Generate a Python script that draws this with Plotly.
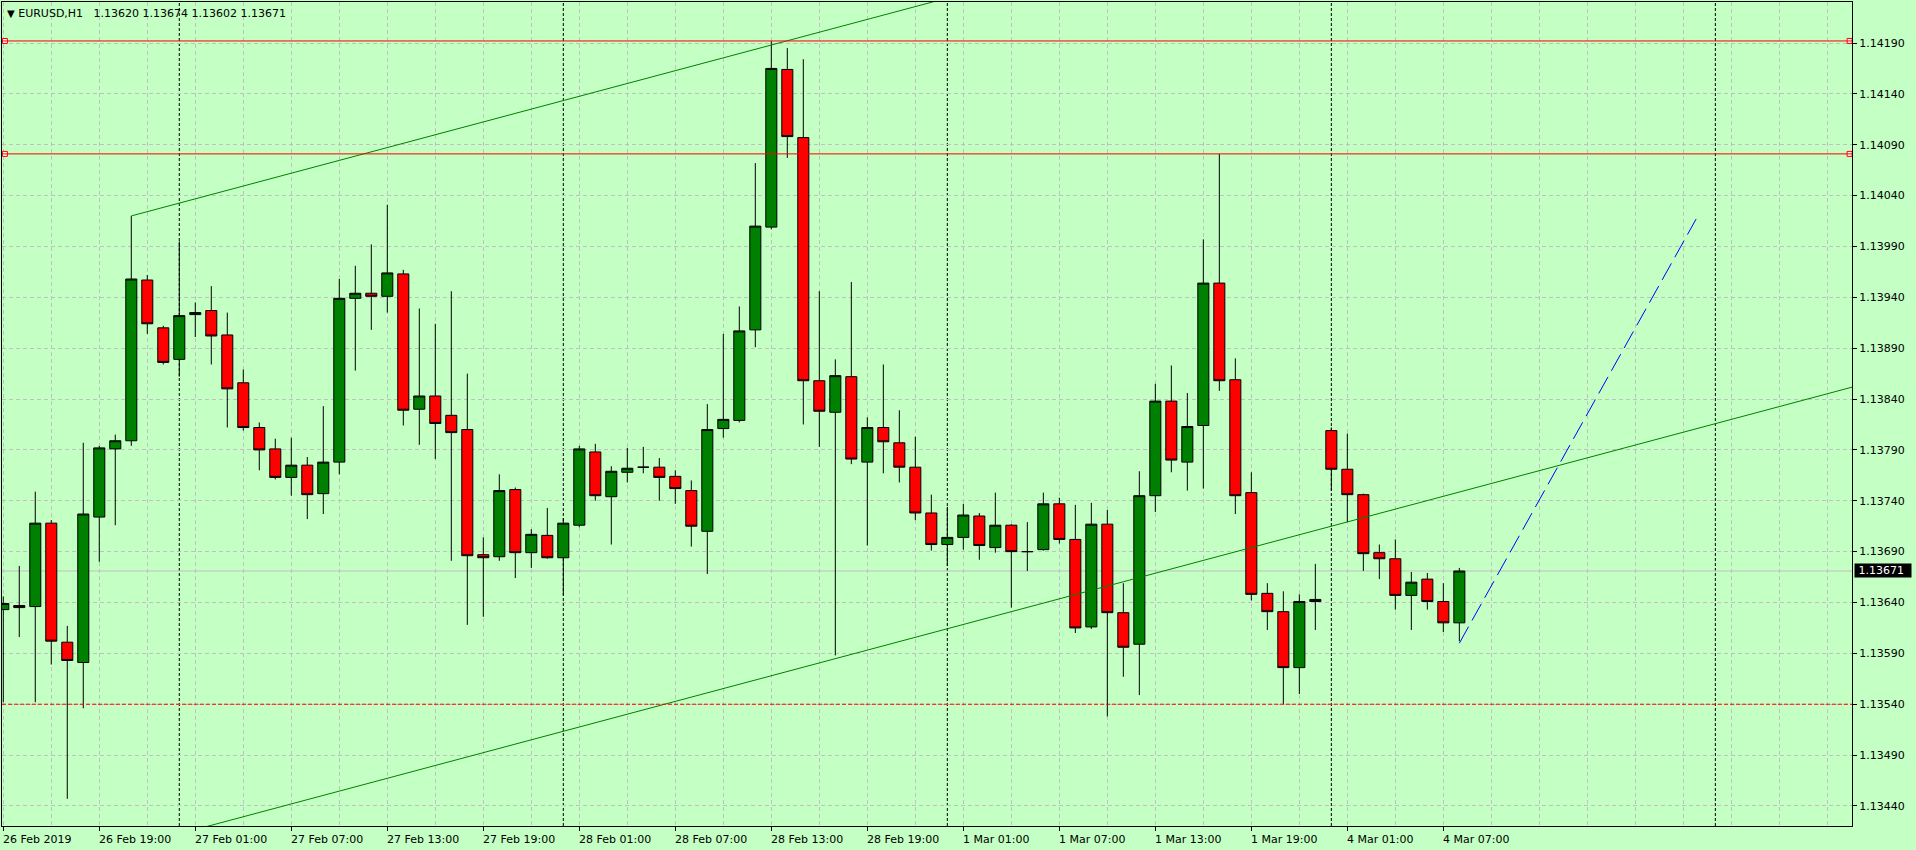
import plotly.graph_objects as go
import pandas as pd

# ---------------- data ----------------
symbol = "EURUSD,H1"

opens = [1.13633, 1.13637, 1.13636, 1.13718, 1.13601, 1.13581, 1.13724, 1.13791, 1.13799, 1.13957,
         1.13910, 1.13879, 1.13923, 1.13927, 1.13903, 1.13856, 1.13812, 1.13791, 1.13763, 1.13775,
         1.13747, 1.13778, 1.13939, 1.13944, 1.13941, 1.13963, 1.13830, 1.13843, 1.13824, 1.13810,
         1.13687, 1.13685, 1.13751, 1.13689, 1.13706, 1.13684, 1.13716, 1.13788, 1.13744, 1.13768,
         1.13773, 1.13773, 1.13764, 1.13750, 1.13710, 1.13811, 1.13819, 1.13908, 1.14009, 1.14164,
         1.14097, 1.13858, 1.13827, 1.13862, 1.13778, 1.13812, 1.13797, 1.13773, 1.13728, 1.13697,
         1.13704, 1.13725, 1.13694, 1.13716, 1.13690, 1.13692, 1.13737, 1.13702, 1.13616, 1.13717,
         1.13630, 1.13599, 1.13745, 1.13838, 1.13778, 1.13814, 1.13954, 1.13859, 1.13748, 1.13649,
         1.13631, 1.13576, 1.13641, 1.13809, 1.13771, 1.13746, 1.13689, 1.13683, 1.13647, 1.13663,
         1.13641, 1.13620]
highs = [1.13646, 1.13676, 1.13749, 1.13721, 1.13617, 1.13797, 1.13794, 1.13805, 1.14020, 1.13962,
         1.13912, 1.13995, 1.13935, 1.13951, 1.13925, 1.13869, 1.13817, 1.13801, 1.13802, 1.13783,
         1.13833, 1.13958, 1.13971, 1.13992, 1.14031, 1.13967, 1.13929, 1.13914, 1.13946, 1.13865,
         1.13704, 1.13766, 1.13753, 1.13712, 1.13733, 1.13723, 1.13794, 1.13796, 1.13774, 1.13792,
         1.13793, 1.13782, 1.13770, 1.13760, 1.13835, 1.13904, 1.13931, 1.14072, 1.14192, 1.14185,
         1.14174, 1.13946, 1.13879, 1.13955, 1.13822, 1.13874, 1.13829, 1.13803, 1.13746, 1.13734,
         1.13737, 1.13728, 1.13748, 1.13717, 1.13719, 1.13748, 1.13743, 1.13736, 1.13738, 1.13731,
         1.13659, 1.13769, 1.13855, 1.13873, 1.13846, 1.13997, 1.14081, 1.13880, 1.13768, 1.13659,
         1.13651, 1.13648, 1.13678, 1.13812, 1.13806, 1.13747, 1.13697, 1.13702, 1.13670, 1.13669,
         1.13659, 1.13674]
lows = [1.13542, 1.13606, 1.13542, 1.13579, 1.13447, 1.13536, 1.13680, 1.13716, 1.13794, 1.13904,
        1.13874, 1.13862, 1.13901, 1.13874, 1.13812, 1.13809, 1.13770, 1.13761, 1.13745, 1.13722,
        1.13727, 1.13766, 1.13868, 1.13908, 1.13925, 1.13814, 1.13795, 1.13781, 1.13681, 1.13618,
        1.13626, 1.13681, 1.13664, 1.13674, 1.13683, 1.13647, 1.13714, 1.13740, 1.13697, 1.13758,
        1.13767, 1.13740, 1.13737, 1.13695, 1.13668, 1.13802, 1.13817, 1.13891, 1.14007, 1.14077,
        1.13815, 1.13793, 1.13588, 1.13776, 1.13696, 1.13767, 1.13758, 1.13721, 1.13691, 1.13676,
        1.13692, 1.13682, 1.13689, 1.13635, 1.13671, 1.13691, 1.13698, 1.13610, 1.13614, 1.13528,
        1.13567, 1.13549, 1.13729, 1.13768, 1.13750, 1.13752, 1.13848, 1.13727, 1.13642, 1.13613,
        1.13540, 1.13550, 1.13613, 1.13750, 1.13719, 1.13671, 1.13663, 1.13633, 1.13613, 1.13633,
        1.13611, 1.13602]
closes = [1.13639, 1.13635, 1.13718, 1.13602, 1.13583, 1.13727, 1.13792, 1.13799, 1.13958, 1.13914,
          1.13876, 1.13922, 1.13925, 1.13902, 1.13850, 1.13812, 1.13790, 1.13763, 1.13775, 1.13746,
          1.13778, 1.13939, 1.13944, 1.13941, 1.13964, 1.13829, 1.13843, 1.13816, 1.13807, 1.13686,
          1.13684, 1.13750, 1.13689, 1.13707, 1.13684, 1.13718, 1.13791, 1.13745, 1.13769, 1.13772,
          1.13773, 1.13763, 1.13752, 1.13715, 1.13810, 1.13820, 1.13907, 1.14010, 1.14165, 1.14098,
          1.13858, 1.13828, 1.13863, 1.13781, 1.13812, 1.13798, 1.13773, 1.13728, 1.13697, 1.13704,
          1.13726, 1.13696, 1.13716, 1.13690, 1.13690, 1.13737, 1.13702, 1.13615, 1.13717, 1.13630,
          1.13596, 1.13745, 1.13838, 1.13780, 1.13813, 1.13954, 1.13858, 1.13745, 1.13648, 1.13631,
          1.13576, 1.13641, 1.13643, 1.13771, 1.13746, 1.13688, 1.13683, 1.13647, 1.13660, 1.13641,
          1.13620, 1.13671]

# bar times (H1, weekend gap skipped)
times = (list(pd.date_range("2019-02-26 13:00", "2019-03-01 23:00", freq="h")) +
         list(pd.date_range("2019-03-04 00:00", "2019-03-04 08:00", freq="h")))

price_ticks = [round(1.13440 + 0.0005 * i, 5) for i in range(16)]
resistance_levels = [1.14192, 1.14081]
support_level = 1.13540
channel_anchor_bar = 8
channel_anchor_price = 1.14020
channel_slope = 4.2e-5      # price per bar
channel_width = 0.0062
projection_x = [91, 105.8]
projection_y = [1.13600, 1.14017]

label_every = 6
grid_every = 3
x_range = [-0.08, 115.54]
y_range = [1.134203, 1.142303]

# ---------------- styling ----------------
BG = "rgb(196,255,196)"
GRID = "#C0C0C0"
FONT = "DejaVu Sans"

idx = list(range(len(times)))
last_close = closes[-1]

fig = go.Figure()

fig.add_trace(go.Candlestick(
    x=idx, open=opens, high=highs, low=lows, close=closes,
    increasing=dict(line=dict(color="black", width=1), fillcolor="#008000"),
    decreasing=dict(line=dict(color="black", width=1), fillcolor="#FF0000"),
    whiskerwidth=0, hoverinfo="skip", showlegend=False,
))

# channel lines
xe = x_range[1] + 1
up_x = [channel_anchor_bar, xe]
up_y = [channel_anchor_price + channel_slope * (x - channel_anchor_bar) for x in up_x]
lo_x = [x_range[0] - 1, xe]
lo_y = [channel_anchor_price - channel_width + channel_slope * (x - channel_anchor_bar) for x in lo_x]
for xs, ys in [(up_x, up_y), (lo_x, lo_y)]:
    fig.add_trace(go.Scatter(x=xs, y=ys, mode="lines", line=dict(color="#008000", width=1),
                             hoverinfo="skip", showlegend=False))

# projection (blue dashed)
fig.add_trace(go.Scatter(x=projection_x, y=projection_y, mode="lines",
                         line=dict(color="#0000FF", width=1, dash="19px,7px"),
                         hoverinfo="skip", showlegend=False))

shapes = []
# day separators
seps = [k for k, t in enumerate(times) if t.hour == 0]
seps.append(seps[-1] + 24)
for s in seps:
    shapes.append(dict(type="line", xref="x", yref="paper", x0=s, x1=s, y0=0, y1=1,
                       line=dict(color="black", width=1, dash="3px,2px"), layer="between"))
# bid line
shapes.append(dict(type="line", xref="paper", yref="y", x0=0, x1=1, y0=last_close, y1=last_close,
                   line=dict(color=GRID, width=1), layer="between"))
# resistance lines
for lv in resistance_levels:
    shapes.append(dict(type="line", xref="paper", yref="y", x0=0, x1=1, y0=lv, y1=lv,
                       line=dict(color="#FF0000", width=1), layer="above"))
# support dashed
shapes.append(dict(type="line", xref="paper", yref="y", x0=0, x1=1, y0=support_level, y1=support_level,
                   line=dict(color="#FF0000", width=1, dash="4px,2px"), layer="above"))

# selection squares on the resistance lines
sq_x, sq_y = [], []
for lv in resistance_levels:
    sq_x += [x_range[0] + 0.18, x_range[1] - 0.15]
    sq_y += [lv, lv]
fig.add_trace(go.Scatter(x=sq_x, y=sq_y, mode="markers", cliponaxis=False,
                         marker=dict(symbol="square", size=5, color="white",
                                     line=dict(color="#FF0000", width=1)),
                         hoverinfo="skip", showlegend=False))

annotations = []
# x labels
label_idx = [k for k in idx if k % label_every == 0]
for k in label_idx:
    t = times[k]
    txt = f"{t.day} {t.strftime('%b')} {t.year}" if k == 0 else f"{t.day} {t.strftime('%b')} {t.strftime('%H:%M')}"
    annotations.append(dict(x=k, xref="x", y=0, yref="paper", yanchor="top", xanchor="left",
                            yshift=-5, xshift=-2, text=txt, showarrow=False,
                            font=dict(family=FONT, size=11, color="black")))
# title
o, h, l, c = opens[-1], highs[-1], lows[-1], closes[-1]
title_txt = ("<span style='font-size:10px'>▼</span>\u00a0" + symbol + "\u00a0\u00a0\u00a0" +
             f"{o:.5f} {h:.5f} {l:.5f} {c:.5f}")
annotations.append(dict(x=0, xref="paper", y=1, yref="paper", xanchor="left", yanchor="top",
                        xshift=3, yshift=-3, text=title_txt, showarrow=False,
                        font=dict(family=FONT, size=11, color="black")))
# current price label
annotations.append(dict(x=1, xref="paper", y=last_close, yref="y", xanchor="left", yanchor="middle",
                        xshift=2, text=f"\u00a0{last_close:.5f}\u00a0\u00a0", showarrow=False,
                        bgcolor="black", borderpad=0,
                        font=dict(family=FONT, size=11, color="white")))

minor_vals = [k for k in range(0, int(x_range[1]) + 1) if k % grid_every == 0 and k not in label_idx]

fig.update_layout(
    width=1916, height=850,
    margin=dict(l=2, r=64, t=2, b=24, autoexpand=False),
    paper_bgcolor=BG, plot_bgcolor=BG,
    boxgap=0.31, boxgroupgap=0,
    shapes=shapes, annotations=annotations,
    showlegend=False,
    font=dict(family=FONT, size=11, color="black"),
    xaxis=dict(range=x_range, rangeslider=dict(visible=False),
               tickmode="array", tickvals=label_idx, ticktext=[""] * len(label_idx),
               ticks="outside", ticklen=4, tickcolor="black", tickwidth=1,
               showgrid=True, gridcolor=GRID, griddash="4px,3px", gridwidth=1,
               minor=dict(tickmode="array", tickvals=minor_vals, showgrid=True,
                          gridcolor=GRID, griddash="4px,3px", gridwidth=1, ticks=""),
               showline=True, linecolor="black", linewidth=1, mirror=True, zeroline=False,
               fixedrange=True),
    yaxis=dict(range=y_range, side="right", tickmode="array", tickvals=price_ticks,
               tickformat=".5f", ticks="outside", ticklen=4, tickcolor="black", tickwidth=1,
               tickfont=dict(family=FONT, size=11, color="black"),
               showgrid=True, gridcolor=GRID, griddash="4px,3px", gridwidth=1,
               showline=True, linecolor="black", linewidth=1, mirror=True, zeroline=False,
               fixedrange=True),
)

fig.write_html("out.html", config={"displayModeBar": False},
               post_script="document.body.style.margin='0';")
